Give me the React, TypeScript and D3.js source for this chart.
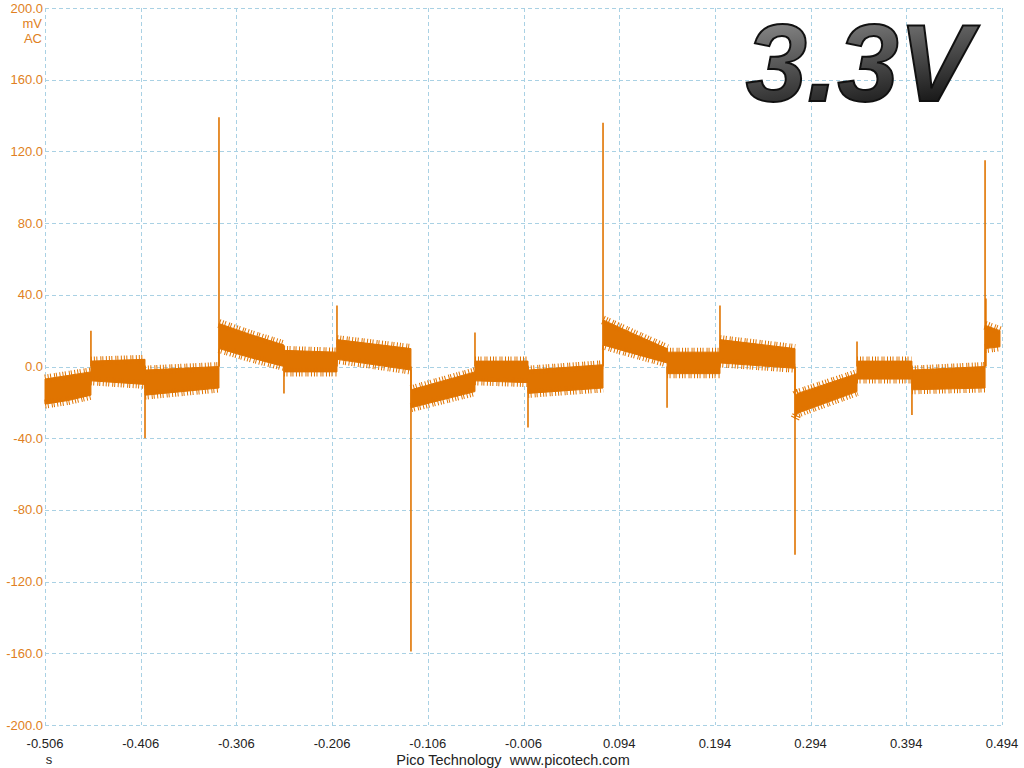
import * as d3 from 'd3';
import { useEffect } from 'react';

// time axis (s) and voltage axis (mV)
const xTicks = [-0.506, -0.406, -0.306, -0.206, -0.106, -0.006, 0.094, 0.194, 0.294, 0.394, 0.494];
const yTicks = [200, 160, 120, 80, 40, 0, -40, -80, -120, -160, -200];

// noise band envelope: [time, upper, lower]
// a repeated time marks a step between two plateaus
const bandTime = [
  -0.506, -0.482, -0.458,
  -0.458, -0.4015,
  -0.4015, -0.3242,
  -0.3242, -0.292, -0.2563,
  -0.2563, -0.2009,
  -0.2009, -0.1236,
  -0.1236, -0.0567,
  -0.0567, -0.0013,
  -0.0013, 0.0771,
  0.0771, 0.11, 0.144,
  0.144, 0.1993,
  0.1993, 0.2777,
  0.2777, 0.2805, 0.3425,
  0.3425, 0.3999,
  0.3999, 0.4763,
  0.4763, 0.4919,
];
const bandHigh = [
  -7, -5, -3,
  3, 4,
  -2, 0,
  24, 18, 12,
  9, 8,
  15, 10,
  -13, -3,
  3, 3,
  -2, 1,
  26, 18, 10,
  8, 8,
  15, 10,
  -16, -15, -4,
  3, 3,
  -2, 0,
  23, 20,
];
const bandLow = [
  -21, -19, -16,
  -8, -10,
  -16, -12,
  10, 5, 0,
  -3, -3,
  4, -2,
  -23, -14,
  -8, -9,
  -15, -12,
  12, 7, 2,
  -4, -4,
  2, -1,
  -29, -26, -14,
  -7, -7,
  -13, -12,
  10, 11,
];

// single-sample glitches at the switching edges
const spikeTime = [-0.458, -0.4015, -0.3242, -0.2563, -0.2009, -0.1236, -0.0567, -0.0013, 0.0771, 0.144, 0.1993, 0.2777, 0.3425, 0.3999, 0.4763, 0.4772];
const spikeValue = [20, -40, 139, -15, 34, -159, 19, -34, 136, -23, 34, -105, 14, -27, 115, 38];

const W = 1024;
const H = 768;
const margin = { top: 8, right: 22, bottom: 43, left: 45 };
const traceColor = '#e07400';
const labelColor = '#e07f22';
const gridColor = '#a9d1e4';
const font = '"Liberation Sans", Arial, sans-serif';

type BandPoint = { t: number; hi: number; lo: number };

export default function App() {
  useEffect(() => {
    document.body.style.margin = '0';
  }, []);

  const x = d3.scaleLinear().domain([-0.506, 0.494]).range([margin.left, W - margin.right]);
  const y = d3.scaleLinear().domain([-200, 200]).range([H - margin.bottom, margin.top]);

  const band: BandPoint[] = bandTime.map((t, i) => ({ t, hi: bandHigh[i], lo: bandLow[i] }));

  // split into plateaus for the jagged edges
  const plateaus: BandPoint[][] = [];
  band.forEach((p, i) => {
    if (i === 0 || p.t === band[i - 1].t) plateaus.push([]);
    plateaus[plateaus.length - 1].push(p);
  });

  const area = d3
    .area<BandPoint>()
    .x((d) => x(d.t))
    .y0((d) => y(d.lo))
    .y1((d) => y(d.hi));
  const upper = d3.line<BandPoint>().x((d) => x(d.t)).y((d) => y(d.hi));
  const lower = d3.line<BandPoint>().x((d) => x(d.t)).y((d) => y(d.lo));

  return (
    <svg width={W} height={H} style={{ display: 'block', background: '#fff' }}>
      <defs>
        <linearGradient id="bigText" x1="0" y1="0" x2="0.3" y2="1">
          <stop offset="0%" stopColor="#a0a0a0" />
          <stop offset="45%" stopColor="#606060" />
          <stop offset="100%" stopColor="#151515" />
        </linearGradient>
      </defs>

      {/* grid */}
      <g stroke={gridColor} strokeWidth={1} strokeDasharray="4,3" fill="none">
        {xTicks.map((t) => (
          <line key={`gx${t}`} x1={Math.round(x(t)) + 0.5} x2={Math.round(x(t)) + 0.5} y1={y(200)} y2={y(-200)} />
        ))}
        {yTicks.map((v) => (
          <line key={`gy${v}`} x1={x(-0.506)} x2={x(0.494)} y1={Math.round(y(v)) + 0.5} y2={Math.round(y(v)) + 0.5} />
        ))}
      </g>

      {/* trace */}
      <path d={area(band) ?? ''} fill={traceColor} stroke={traceColor} strokeWidth={1} />
      <g fill="none" stroke={traceColor} strokeWidth={9} strokeDasharray="1,2,1,1.5,1,3,1,1,1,2.5">
        {plateaus.map((seg, i) => (
          <g key={`p${i}`}>
            <path d={upper(seg) ?? ''} />
            <path d={lower(seg) ?? ''} strokeDashoffset={3} />
          </g>
        ))}
      </g>
      <g stroke={traceColor} strokeWidth={1.6}>
        {spikeTime.map((t, i) => (
          <line key={`s${i}`} x1={x(t)} x2={x(t)} y1={y(0)} y2={y(spikeValue[i])} />
        ))}
      </g>

      {/* y labels */}
      <g fontFamily={font} fontSize={13} fill={labelColor} textAnchor="end">
        {yTicks.map((v) => (
          <text key={`ly${v}`} x={margin.left - 2} y={y(v)} dy="0.35em">
            {v.toFixed(1)}
          </text>
        ))}
        <text x={margin.left - 3} y={y(200) + 15} dy="0.35em">mV</text>
        <text x={margin.left - 3} y={y(200) + 30} dy="0.35em">AC</text>
      </g>

      {/* x labels */}
      <g fontFamily={font} fontSize={13} fill="#222" textAnchor="middle">
        {xTicks.map((t) => (
          <text key={`lx${t}`} x={x(t)} y={H - margin.bottom + 23}>
            {t.toFixed(3)}
          </text>
        ))}
        <text x={x(-0.506) + 4} y={H - 4}>s</text>
        <text x={513} y={H - 3} fontSize={14.5}>
          {'Pico Technology\u00a0\u00a0www.picotech.com'}
        </text>
      </g>

      {/* channel annotation */}
      <text
        x={972}
        y={101}
        textAnchor="end"
        fontFamily={font}
        fontSize={110}
        fontWeight="bold"
        fontStyle="italic"
        fill="url(#bigText)"
        stroke="#111"
        strokeWidth={2}
      >
        3.3V
      </text>
    </svg>
  );
}
